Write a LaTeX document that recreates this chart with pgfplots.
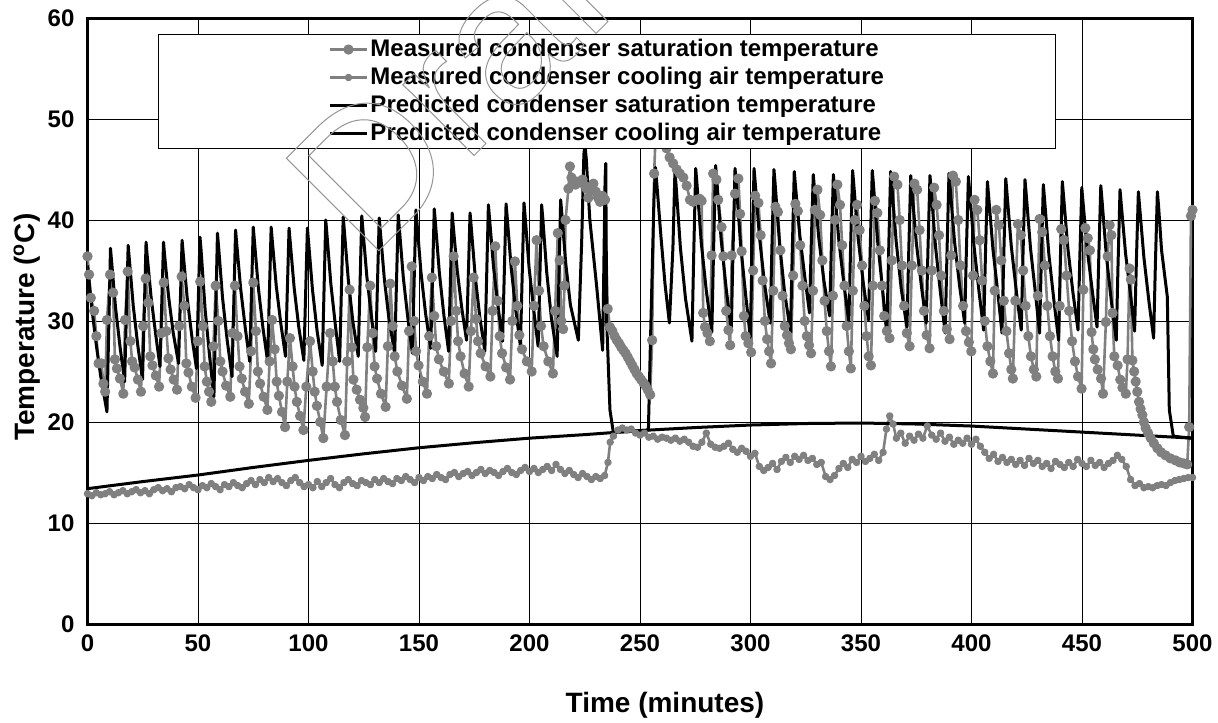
\documentclass[border=0pt]{standalone}
\usepackage{fontspec}
\setmainfont{Liberation Sans}
\usepackage{pgfplots}
\pgfplotsset{compat=1.18}
\definecolor{mgray}{RGB}{128,128,128}
\definecolor{wmgray}{RGB}{150,150,150}
\begin{document}
\begin{tikzpicture}[x=1pt,y=1pt]
\useasboundingbox (-43.75,-49) rectangle (565.25,312);
\begin{axis}[
 at={(0,0)}, anchor=south west,
 scale only axis, width=552.5pt, height=303pt,
 xmin=0, xmax=500, ymin=0, ymax=60,
 xtick={0,50,...,500}, ytick={0,10,...,60},
 grid=major, grid style={black, line width=0.5pt},
 major tick length=0pt,
 axis line style={line width=1.5pt},
 tick label style={font=\fontsize{12}{14}\selectfont\bfseries},
 /pgf/number format/assume math mode=true,
 xticklabel style={yshift=-2pt},
 yticklabel style={xshift=-3pt},
 xlabel={Time (minutes)}, ylabel={Temperature (\textsuperscript{o}C)},
 label style={font=\fontsize{14}{16}\selectfont\bfseries},
 xlabel style={at={(axis description cs:0.5226,-0.1337)}, anchor=center},
 ylabel style={at={(axis description cs:-0.0548,0.49)}, anchor=center},
 legend style={at={(0.0638,0.9736)}, anchor=north west, draw=black, line width=0.5pt, fill=white,
   inner xsep=85pt, inner ysep=0.5pt, font=\fontsize{12}{14}\selectfont\bfseries, row sep=0pt,
   nodes={inner ysep=1pt, inner xsep=1pt, text height=9.5pt, text depth=2.5pt}},
 legend cell align=left,
 legend image code/.code={\draw[mark repeat=2,mark phase=2,#1] plot coordinates {(0pt,0pt) (9.25pt,0pt) (18.5pt,0pt)};},
]
% Measured condenser saturation temperature
\addplot[mgray, line width=1.3pt, line join=round, mark=*, mark size=1.9pt, mark options={solid, fill=mgray, draw=mgray}] coordinates {
(0.0,36.4) (0.7,34.6) (1.5,32.3) (3.0,31.0) (4.0,28.5) (5.0,25.8) (6.3,25.8) (7.2,23.8) (8.0,23.0) (8.8,30.1)
(10.2,34.6) (11.6,32.8) (12.4,26.2) (13.3,25.3) (14.7,24.3) (16.2,22.8) (17.0,30.1)
(18.2,34.9) (19.4,28.0) (20.2,26.0) (21.3,25.4) (22.8,24.2) (24.2,23.0) (25.2,29.5)
(26.3,34.2) (27.5,31.8) (28.4,26.5) (29.4,25.6) (30.9,24.6) (32.4,23.5) (33.4,28.8)
(34.5,33.8) (35.7,29.0) (36.6,26.3) (37.6,25.2) (39.0,24.2) (40.5,23.2) (41.5,29.5)
(42.6,34.4) (43.8,31.5) (44.7,25.8) (45.7,24.9) (47.2,23.5) (48.9,22.4) (49.9,28.0)
(51.0,33.9) (52.2,29.5) (53.0,25.5) (54.0,24.0) (55.0,23.0) (56.0,22.0) (57.0,27.5)
(58.0,33.5) (59.2,30.0) (60.1,26.0) (61.1,25.0) (62.7,23.6) (64.6,22.5) (65.6,28.8)
(66.7,33.5) (67.9,28.5) (68.8,25.5) (69.8,24.3) (71.3,23.0) (73.0,21.8) (74.0,27.0)
(75.0,33.8) (76.2,29.0) (77.1,25.0) (78.1,23.8) (79.7,22.5) (81.4,21.2) (82.4,26.0)
(83.5,30.1) (84.7,27.2) (85.6,24.0) (86.6,22.6) (88.0,21.0) (89.4,19.5) (90.4,24.0)
(91.6,28.3) (92.8,25.5) (93.7,23.5) (94.7,22.0) (96.2,20.6) (97.7,19.2) (99.0,23.5)
(100.7,28.0) (101.9,25.0) (102.8,23.0) (103.8,21.6) (105.3,20.0) (106.7,18.4) (108.2,23.5)
(109.8,28.8) (111.0,26.0) (111.9,23.5) (112.9,22.0) (114.6,20.2) (116.5,18.7) (117.5,26.0)
(118.6,33.1) (119.6,27.4) (120.3,24.2) (121.8,23.2) (123.3,22.2) (124.8,21.4) (125.6,20.5) (126.6,27.4)
(127.9,33.5) (129.0,28.8) (129.9,25.5) (131.0,24.3) (132.8,22.8) (134.9,21.5) (135.9,27.5)
(137.0,33.7) (138.1,29.5) (139.0,26.5) (140.2,25.0) (142.3,23.6) (144.5,22.3) (145.5,29.0)
(146.7,35.4) (147.8,30.0) (148.7,27.0) (149.8,25.6) (151.7,24.0) (153.6,22.8) (154.6,28.5)
(155.8,34.3) (156.9,30.5) (157.8,27.5) (159.0,26.2) (161.2,25.0) (163.5,23.8) (164.5,30.0)
(165.7,36.4) (166.8,31.0) (167.7,28.0) (168.8,26.5) (170.6,24.8) (172.5,23.5) (173.5,29.0)
(174.7,34.3) (175.8,30.2) (176.7,28.0) (177.9,26.8) (180.1,25.5) (182.3,24.5) (183.3,31.0)
(184.5,37.4) (185.6,32.0) (186.5,28.5) (187.6,26.8) (189.4,25.4) (191.2,24.2) (192.2,30.0)
(193.4,35.9) (194.5,31.5) (195.4,28.6) (196.6,27.2) (198.8,26.0) (201.0,25.0) (202.0,31.5)
(203.2,38.0) (204.3,33.0) (205.2,29.5) (206.4,27.5) (208.5,26.0) (210.6,24.8) (211.6,31.0)
(212.8,38.7) (213.6,36.0) (214.4,30.0) (215.2,29.2) (215.8,33.5) (216.3,40.0) (217.6,43.1) (218.3,45.3)
(219.0,44.2) (219.8,43.9) (220.8,43.5) (221.8,43.8) (222.8,43.8) (224.0,44.0) (225.0,43.4) (225.8,43.1)
(226.6,42.2) (227.5,43.0) (228.9,43.6) (230.0,42.8) (231.0,42.2) (231.9,41.8) (233.0,42.4) (234.2,42.0)
(235.4,31.2) (236.4,29.4) (237.5,29.0) (238.5,28.5) (239.5,28.1) (240.5,27.8) (241.5,27.4) (242.5,27.1)
(243.5,26.8) (244.5,26.4) (245.5,26.0) (246.5,25.6) (247.5,25.2) (248.5,24.8) (249.5,24.5) (250.5,24.2)
(251.5,23.9) (252.5,23.6) (253.5,23.2) (254.6,22.7) (255.5,28.1) (256.4,44.6) (257.4,50.5) (258.5,50.0)
(259.8,48.3) (261.0,47.5) (262.0,47.1) (263.4,46.2) (265.0,45.6) (266.6,45.0) (268.0,44.6) (269.6,44.2)
(271.1,43.4) (272.6,42.0) (274.0,41.8) (275.6,42.0) (277.0,42.1) (277.9,41.9) (278.6,30.8) (279.4,29.4)
(280.5,28.8) (281.6,28.0) (282.4,36.5) (283.1,44.6) (284.6,44.0) (285.4,42.0) (286.9,39.3) (287.7,36.4)
(289.0,31.0) (290.0,29.1) (290.8,27.6) (291.5,36.5) (293.0,42.6) (294.5,44.1) (295.3,40.6) (296.0,36.9)
(297.0,30.5) (297.8,28.5) (299.0,27.8) (300.3,26.9) (301.2,35.0) (302.1,42.4) (303.6,41.7) (304.6,38.5)
(305.5,34.0) (306.5,30.0) (307.5,28.2) (308.4,27.0) (309.3,25.8) (310.3,33.0) (311.3,41.3) (312.4,40.8)
(313.5,37.0) (314.5,32.5) (315.5,29.5) (316.5,28.6) (317.4,27.8) (318.3,27.2) (319.3,34.5) (320.3,41.6)
(321.4,40.9) (322.5,37.5) (323.5,33.5) (324.5,30.0) (325.5,28.5) (326.5,27.6) (327.4,26.8) (328.3,33.0)
(329.1,41.0) (330.3,43.0) (331.5,40.5) (332.5,36.0) (333.5,32.0) (334.5,29.0) (335.5,27.0) (336.4,25.5)
(337.3,32.5) (338.3,40.0) (339.3,43.5) (340.5,41.5) (341.5,37.5) (342.5,33.5) (343.5,29.5) (344.5,27.0)
(345.4,25.3) (346.3,33.0) (347.2,40.0) (348.2,41.5) (349.4,39.0) (350.5,35.5) (351.5,31.5) (352.5,28.5)
(353.5,26.5) (354.5,25.6) (355.4,33.5) (356.3,41.9) (357.4,40.7) (358.5,37.0) (359.5,33.5) (360.5,30.5)
(361.7,29.0) (362.9,28.3) (363.9,36.0) (365.0,44.3) (366.5,43.5) (367.5,40.0) (368.5,35.5) (369.5,31.5)
(370.7,28.8) (372.0,27.5) (373.0,35.5) (374.2,43.6) (375.4,43.0) (376.5,39.0) (377.5,35.0) (378.5,31.0)
(379.7,28.6) (381.0,27.3) (382.0,35.0) (383.1,43.2) (384.2,41.5) (385.3,38.5) (386.3,34.5) (387.5,31.0)
(388.8,29.2) (390.1,28.2) (390.8,36.5) (391.6,44.4) (392.9,43.8) (394.0,40.0) (395.0,35.5) (396.2,31.5)
(397.5,29.0) (398.8,27.9) (399.9,27.0) (400.7,34.5) (401.4,42.0) (402.6,41.0) (403.7,38.0) (404.8,34.0)
(406.0,30.0) (407.2,27.5) (408.5,26.0) (409.7,24.8) (410.5,33.0) (411.2,41.0) (412.4,39.5) (413.5,36.0)
(414.6,32.0) (415.8,29.0) (417.0,26.8) (418.0,25.2) (418.7,24.3) (419.8,32.0) (421.0,39.6) (422.3,38.5)
(423.4,35.0) (424.5,31.5) (425.7,28.5) (426.9,26.5) (428.2,25.2) (429.3,24.5) (430.0,32.5) (430.8,40.1)
(432.0,38.8) (433.2,35.5) (434.3,31.5) (435.5,28.5) (436.7,26.5) (437.9,25.0) (439.1,24.3) (439.9,31.5)
(440.6,39.1) (441.8,38.0) (443.0,34.5) (444.2,31.0) (445.5,28.0) (446.8,26.0) (448.2,24.5) (449.8,23.3)
(450.6,33.1) (451.5,39.2) (452.6,38.2) (453.6,37.0) (454.3,28.9) (455.1,27.2) (455.8,26.2) (457.1,25.2)
(458.6,24.3) (459.5,22.8) (460.8,29.9) (461.6,36.4) (462.5,39.5) (463.3,38.5) (463.8,30.8) (464.6,26.5)
(466.1,25.6) (467.3,24.2) (468.3,23.4) (469.8,22.8) (470.6,26.2) (471.5,35.2) (472.1,34.1) (472.8,26.1)
(473.6,25.0) (474.3,24.0) (475.0,23.0) (475.8,22.0) (476.5,21.3) (477.3,20.7) (478.0,20.0) (478.8,19.4)
(479.9,18.9) (481.1,18.4) (482.5,17.9) (484.1,17.4) (485.8,17.0) (487.8,16.7) (490.0,16.4) (492.3,16.2)
(494.2,16.0) (496.1,15.9) (497.6,15.8) (498.5,19.5) (499.3,40.4) (500.0,41.0)
};
\addlegendentry{Measured condenser saturation temperature}
% Measured condenser cooling air temperature
\addplot[mgray, line width=1.3pt, line join=round, mark=*, mark size=1.2pt, mark options={solid, fill=mgray, draw=mgray}] coordinates {
(0,12.9) (2,12.7) (4,13.0) (6,12.8) (8,12.9) (10,13.1) (12,12.8) (14,13.0) (16,13.2) (18,12.9)
(20,13.1) (22,13.3) (24,13.0) (26,13.2) (28,12.9) (30,13.3) (32,13.5) (34,13.2) (36,13.4) (38,13.1)
(40,13.5) (42,13.6) (44,13.4) (46,13.8) (48,13.5) (50,13.3) (52,13.7) (54,13.5) (56,13.9) (58,13.6)
(60,13.3) (62,13.8) (64,13.6) (66,14.0) (68,13.7) (70,13.5) (72,13.9) (74,14.2) (76,13.8) (78,14.3)
(80,14.0) (82,14.5) (84,14.1) (86,14.4) (88,14.0) (90,13.7) (92,14.2) (94,14.5) (96,14.0) (98,13.6)
(100,13.8) (102,13.5) (104,14.1) (106,13.6) (108,14.0) (110,14.4) (112,13.8) (114,13.5) (116,14.0) (118,14.3)
(120,13.9) (122,13.7) (124,14.2) (126,14.0) (128,13.8) (130,14.3) (132,14.0) (134,14.4) (136,14.1) (138,13.9)
(140,14.4) (142,14.2) (144,14.6) (146,14.3) (148,14.0) (150,14.5) (152,14.2) (154,14.6) (156,14.4) (158,14.8)
(160,14.5) (162,14.3) (164,14.8) (166,15.0) (168,14.6) (170,14.9) (172,15.1) (174,14.7) (176,15.0) (178,15.3)
(180,14.9) (182,15.2) (184,15.0) (186,14.7) (188,15.1) (190,15.4) (192,15.0) (194,14.8) (196,15.2) (198,15.5)
(200,15.1) (202,15.4) (204,15.0) (206,15.3) (208,15.6) (210,15.2) (212,15.8) (214,15.3) (216,14.9) (218,15.2)
(220,14.8) (222,14.5) (224,14.9) (226,14.6) (228,14.3) (230,14.6) (232,14.4) (234,14.7) (235.5,16.0) (236.5,18.0)
(238,18.6) (240,19.2) (242,19.4) (244,19.2) (246,19.3) (248,18.9) (250,18.7) (252,18.9) (254,18.5) (256,18.6)
(258,18.3) (260,18.5) (262,18.4) (264,18.2) (266,18.4) (268,18.1) (270,18.3) (272,18.0) (274,17.6) (276,17.5)
(278,18.0) (280,18.9) (282,17.8) (284,17.5) (286,17.4) (288,17.6) (290,17.9) (292,17.3) (294,17.0) (296,17.4)
(298,17.1) (300,16.6) (302,16.9) (304,15.6) (306,15.2) (308,15.5) (310,15.9) (312,15.3) (314,16.1) (316,16.5)
(318,16.0) (320,16.6) (322,16.3) (324,16.7) (326,16.2) (328,16.4) (330,15.8) (332,16.0) (334,14.6) (336,14.3)
(338,14.7) (340,15.4) (342,15.9) (344,15.5) (346,16.3) (348,16.0) (350,16.6) (352,16.1) (354,16.4) (356,16.8)
(358,16.2) (360,17.0) (361.5,19.3) (363,20.6) (364.5,19.8) (366,18.4) (368,18.9) (370,17.9) (372,18.6) (374,18.2)
(376,18.8) (378,18.4) (380,19.6) (382,18.7) (384,18.3) (386,18.9) (388,18.1) (390,18.5) (392,17.8) (394,18.2)
(396,17.9) (398,18.4) (400,17.8) (402,18.3) (404,17.6) (406,17.0) (408,16.4) (410,16.8) (412,16.1) (414,16.5)
(416,16.0) (418,16.3) (420,15.8) (422,16.2) (424,15.7) (426,16.4) (428,15.9) (430,16.2) (432,15.6) (434,15.9)
(436,15.4) (438,16.1) (440,15.8) (442,15.5) (444,16.0) (446,15.6) (448,16.3) (450,15.9) (452,15.6) (454,16.2)
(456,15.7) (458,16.0) (460,15.5) (462,15.9) (464,16.2) (466,16.7) (468,16.3) (470,15.6) (472,14.3) (474,13.7)
(476,13.9) (478,13.5) (480,13.6) (482,13.5) (484,13.7) (486,13.8) (488,13.7) (490,14.0) (492,14.2) (494,14.3)
(496,14.4) (498,14.5) (500,14.5)
};
\addlegendentry{Measured condenser cooling air temperature}
% Predicted condenser saturation temperature
\addplot[black, line width=1.5pt, line join=round] coordinates {
(0,35.5) (2,31.2) (4,27.6) (6,24.5) (8.8,21.0)
(9.6,29.1) (10.4,37.2) (10.9,35.9) (12.7,31.3) (14.8,27.3)
(16.8,24.0) (17.6,30.8) (18.4,37.5) (18.9,36.2) (20.7,31.5) (22.8,27.5)
(24.9,24.2) (25.7,31.0) (26.5,37.8) (27.0,36.5) (28.8,32.3) (30.9,28.6)
(32.8,25.5) (33.6,31.7) (34.4,37.8) (34.9,36.5) (36.7,32.4) (38.8,28.8)
(41.2,25.8) (42.0,31.9) (42.8,38.0) (43.3,36.7) (45.1,32.3) (47.2,28.5)
(49.3,25.3) (50.1,31.8) (50.9,38.3) (51.4,37.0) (53.2,31.2) (55.3,26.4)
(57.2,22.5) (58.0,30.6) (58.8,38.7) (59.3,37.4) (61.1,32.3) (63.2,28.1)
(65.4,24.5) (66.2,31.8) (67.0,39.0) (67.5,37.7) (69.3,33.2) (71.4,29.3)
(73.4,26.0) (74.2,32.7) (75.0,39.3) (75.5,38.0) (77.3,33.3) (79.4,29.3)
(81.5,26.0) (82.3,32.7) (83.1,39.3) (83.6,38.0) (85.4,33.5) (87.5,29.7)
(89.6,26.5) (90.4,32.9) (91.2,39.2) (91.7,37.9) (93.5,33.3) (95.6,29.4)
(97.9,26.1) (98.7,32.7) (99.5,39.2) (100.0,37.9) (101.8,33.1) (103.9,29.0)
(106.2,25.6) (107.0,32.8) (107.8,40.0) (108.3,38.7) (110.1,33.7) (112.2,29.5)
(114.1,26.0) (114.9,33.2) (115.7,40.3) (116.2,39.0) (118.0,34.1) (120.1,29.9)
(122.5,26.5) (123.3,33.5) (124.1,40.4) (124.6,39.1) (126.4,34.4) (128.5,30.4)
(130.4,27.0) (131.2,33.6) (132.0,40.2) (132.5,38.9) (134.3,34.2) (136.4,30.2)
(139.0,26.8) (139.8,33.7) (140.6,40.5) (141.1,39.2) (142.9,34.3) (145.0,30.2)
(147.0,26.8) (147.8,33.9) (148.6,41.0) (149.1,39.7) (150.9,34.8) (153.0,30.7)
(155.3,27.3) (156.1,34.2) (156.9,41.1) (157.4,39.8) (159.2,34.8) (161.3,30.5)
(163.4,27.0) (164.2,33.9) (165.0,40.7) (165.5,39.4) (167.3,35.0) (169.4,31.2)
(171.5,28.1) (172.3,34.4) (173.1,40.7) (173.6,39.4) (175.4,34.5) (177.5,30.4)
(179.8,27.0) (180.6,34.3) (181.4,41.5) (181.9,40.2) (183.7,35.4) (185.8,31.4)
(187.8,28.0) (188.6,34.8) (189.4,41.6) (189.9,40.3) (191.7,35.3) (193.8,31.0)
(195.9,27.5) (196.7,34.6) (197.5,41.7) (198.0,40.4) (199.8,35.3) (201.9,31.1)
(203.9,27.5) (204.7,34.5) (205.5,41.5) (206.0,40.2) (207.8,34.8) (209.9,30.3)
(212.5,26.5) (213.3,34.3) (214.1,42.0) (214.6,40.7) (216.4,35.7) (218.5,31.6)
(222.1,28.1) (223.6,37.8) (224.6,46.5) (225.1,47.4) (225.7,46.0) (227.3,40.0) (230.4,33.4) (233.1,27.1)
(234.2,44.0) (234.5,45.6) (234.9,30.1) (236.4,21.2) (237.9,19.0) (245,19.05) (250,19.15) (253.8,19.2)
(254.6,26.8) (256.3,42.0) (257.0,45.2) (257.5,43.9) (259.5,38.3) (261.3,33.7)
(263.3,29.8) (264.9,37.3) (265.8,44.8) (266.3,43.5) (268.3,37.2) (270.6,32.2)
(273.5,28.0) (274.3,36.6) (275.2,45.1) (275.7,43.8) (277.7,37.8) (280.0,33.0)
(282.5,28.9) (283.3,37.2) (284.2,45.4) (284.7,44.1) (286.7,38.1) (289.0,33.2)
(291.3,29.1) (292.1,37.1) (293.0,45.1) (293.5,43.8) (295.5,37.6) (297.8,32.6)
(299.9,28.4) (300.7,36.8) (301.6,45.1) (302.1,43.8) (304.1,38.2) (306.4,33.6)
(308.9,29.8) (309.7,37.4) (310.6,45.0) (311.1,43.7) (313.1,37.8) (315.4,32.9)
(318.1,28.9) (318.9,36.9) (319.8,44.8) (320.3,43.5) (322.3,38.5) (324.6,34.3)
(326.7,30.8) (327.5,37.7) (328.4,44.5) (328.9,43.2) (330.9,38.2) (333.2,34.0)
(335.8,30.5) (336.6,37.5) (337.5,44.5) (338.0,43.2) (340.0,37.9) (342.3,33.6)
(344.5,29.9) (345.3,37.4) (346.2,44.9) (346.7,43.6) (348.7,38.2) (351.0,33.8)
(353.4,30.1) (354.2,37.5) (355.1,44.9) (355.6,43.6) (357.6,37.7) (359.9,32.8)
(361.7,28.8) (362.5,36.8) (363.4,44.8) (363.9,43.5) (365.9,37.9) (368.2,33.2)
(370.8,29.4) (371.6,36.9) (372.5,44.4) (373.0,43.1) (375.0,37.8) (377.3,33.5)
(379.5,29.8) (380.3,37.1) (381.2,44.4) (381.7,43.1) (383.7,37.4) (386.0,32.7)
(388.1,28.8) (388.9,36.7) (389.8,44.6) (390.3,43.3) (392.3,37.9) (394.6,33.5)
(396.9,29.8) (397.7,37.1) (398.6,44.3) (399.1,43.0) (401.1,37.5) (403.4,32.9)
(405.5,29.1) (406.3,36.5) (407.2,43.8) (407.7,42.5) (409.7,37.1) (412.0,32.6)
(413.8,28.8) (414.6,36.5) (415.5,44.1) (416.0,42.8) (418.0,37.4) (420.3,32.9)
(422.5,29.1) (423.3,36.6) (424.2,44.0) (424.7,42.7) (426.7,37.2) (429.0,32.6)
(430.8,28.8) (431.6,36.2) (432.5,43.5) (433.0,42.2) (435.0,36.6) (437.3,32.0)
(439.4,28.1) (440.2,36.0) (441.1,43.8) (441.6,42.5) (443.6,37.2) (445.9,32.8)
(448.2,29.1) (449.0,36.2) (449.9,43.2) (450.4,41.9) (452.4,37.0) (454.7,32.9)
(456.8,29.4) (457.6,36.4) (458.5,43.4) (459.0,42.1) (461.0,36.5) (463.3,31.9)
(465.5,28.1) (466.3,35.6) (467.2,43.0) (467.7,41.7) (469.7,36.7) (472.0,32.5)
(473.8,29.0) (474.6,35.9) (475.5,42.8) (476.0,41.5) (478.0,36.3) (480.3,31.9)
(482.4,28.3) (483.2,35.6) (484.1,42.8) (484.6,41.5) (486.0,37.0) (488.6,32.4) (489.5,21.2) (491.3,18.6)
(495,18.5) (500,18.4)
};
\addlegendentry{Predicted condenser saturation temperature}
% Predicted condenser cooling air temperature
\addplot[black, line width=1.5pt, line join=round] coordinates {
(0,13.4) (25,14.1) (50,14.75) (75,15.5) (100,16.2) (125,16.85) (150,17.45) (175,17.95) (200,18.4)
(225,18.75) (250,19.15) (275,19.45) (300,19.7) (325,19.85) (350,19.9) (375,19.8) (400,19.6)
(425,19.3) (450,19.0) (475,18.7) (500,18.4)
};
\addlegendentry{Predicted condenser cooling air temperature}
\end{axis}
\node[rotate=45, anchor=base west, inner sep=0pt] at (140,181)
 {\fontsize{95}{95}\selectfont\mdseries\special{pdf:literal direct 1 Tr 0.5 w 0.59 0.59 0.59 RG}\textcolor{wmgray}{Draft}\special{pdf:literal direct 0 Tr}};
\end{tikzpicture}
\end{document}
